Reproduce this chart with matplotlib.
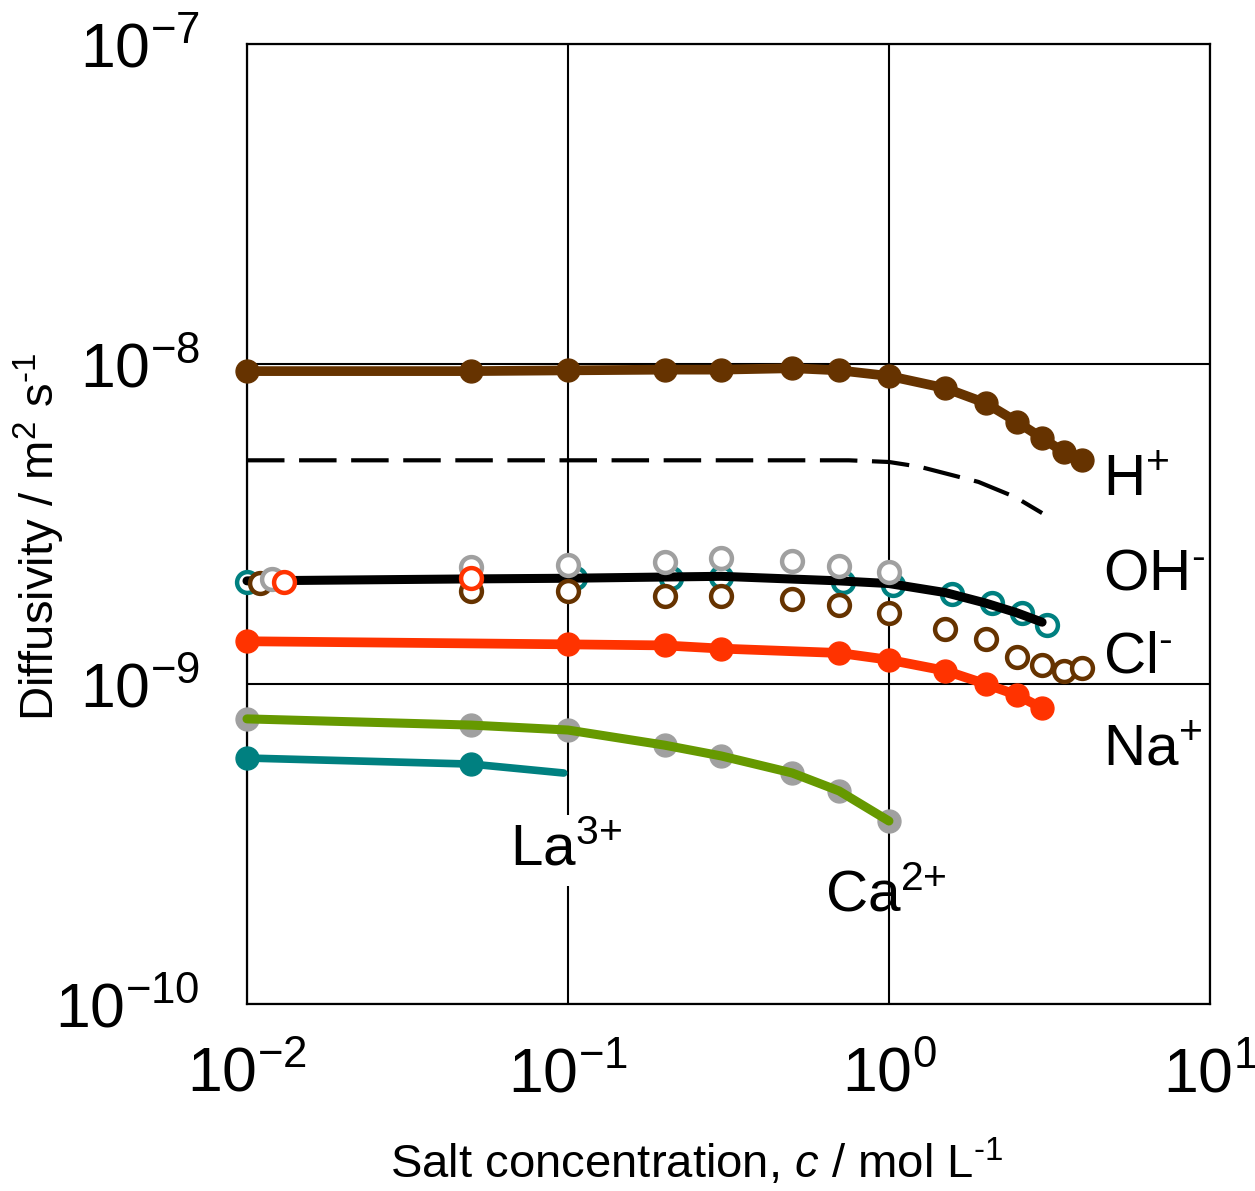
import matplotlib
matplotlib.use("Agg")
import matplotlib.pyplot as plt

plt.rcParams["font.family"] = ["Liberation Sans", "DejaVu Sans"]
plt.rcParams["mathtext.fontset"] = "custom"
plt.rcParams["mathtext.rm"] = "Liberation Sans"
plt.rcParams["mathtext.it"] = "Liberation Sans:italic"
plt.rcParams["mathtext.bf"] = "Liberation Sans:bold"

# ---- data: diffusivities (m^2/s) vs salt concentration (mol/L) ----
# H+ (filled, brown)
h_c = [0.01, 0.05, 0.1, 0.2, 0.3, 0.5, 0.7, 1.0, 1.5, 2.0, 2.5, 3.0, 3.5, 4.0]
h_d = [9.5e-9, 9.5e-9, 9.55e-9, 9.6e-9, 9.6e-9, 9.7e-9, 9.55e-9, 9.17e-9,
       8.4e-9, 7.55e-9, 6.6e-9, 5.87e-9, 5.31e-9, 5.02e-9]

# dashed reference curve
dash_c = [0.01, 0.1, 0.5, 0.75, 1.0, 1.25, 1.9, 2.47, 3.0]
dash_d = [5.0e-9, 5.0e-9, 5.0e-9, 5.0e-9, 4.94e-9, 4.77e-9, 4.28e-9, 3.84e-9, 3.42e-9]

# OH- solid black line
oh_line_c = [0.01, 0.05, 0.1, 0.3, 0.7, 1.0, 1.5, 2.0, 2.5, 3.0]
oh_line_d = [2.10e-9, 2.13e-9, 2.14e-9, 2.17e-9, 2.10e-9, 2.06e-9, 1.93e-9,
             1.79e-9, 1.67e-9, 1.56e-9]

# OH- measured (open, teal)
oh_c = [0.01, 0.105, 0.21, 0.3, 0.72, 1.03, 1.57, 2.1, 2.6, 3.1]
oh_d = [2.08e-9, 2.14e-9, 2.14e-9, 2.16e-9, 2.08e-9, 2.04e-9, 1.91e-9,
        1.79e-9, 1.67e-9, 1.53e-9]

# Cl- in CaCl2 (open, gray)
clca_c = [0.012, 0.05, 0.1, 0.2, 0.3, 0.5, 0.7, 1.0]
clca_d = [2.13e-9, 2.32e-9, 2.35e-9, 2.41e-9, 2.48e-9, 2.42e-9, 2.34e-9, 2.24e-9]

# Cl- in NaCl (open, red)
clna_c = [0.013, 0.05]
clna_d = [2.08e-9, 2.14e-9]

# Cl- in HCl (open, brown)
clh_c = [0.011, 0.05, 0.1, 0.2, 0.3, 0.5, 0.7, 1.0, 1.5, 2.0, 2.5, 3.0, 3.5, 4.0]
clh_d = [2.07e-9, 1.95e-9, 1.95e-9, 1.88e-9, 1.88e-9, 1.84e-9, 1.77e-9, 1.67e-9,
         1.49e-9, 1.38e-9, 1.21e-9, 1.15e-9, 1.10e-9, 1.12e-9]

# Na+ (filled, red)
na_c = [0.01, 0.1, 0.2, 0.3, 0.7, 1.0, 1.5, 2.0, 2.5, 3.0]
na_d = [1.36e-9, 1.33e-9, 1.32e-9, 1.29e-9, 1.25e-9, 1.19e-9, 1.10e-9,
        1.0e-9, 0.924e-9, 0.841e-9]

# Ca2+ (gray points, green line)
ca_c = [0.01, 0.05, 0.1, 0.2, 0.3, 0.5, 0.7, 1.0]
ca_d = [7.78e-10, 7.44e-10, 7.18e-10, 6.44e-10, 5.96e-10, 5.27e-10, 4.63e-10, 3.73e-10]

# La3+ (filled, teal); the last line point carries no marker
la_c = [0.01, 0.05, 0.097]
la_d = [5.87e-10, 5.62e-10, 5.27e-10]

# ion labels: (text, c, D)
HY = "\u2010"  # short hyphen used for negative charges / exponents
ion_labels = [
    ("H$^{+}$", 4.64, 3.9e-9),
    ("OH$^{" + HY + "}$", 4.64, 1.97e-9),
    ("Cl$^{" + HY + "}$", 4.64, 1.09e-9),
    ("Na$^{+}$", 4.64, 5.58e-10),
    ("Ca$^{2{+}}$", 0.631, 1.94e-10),
]
la_label = ("La$^{3{+}}$", 0.0659, 2.71e-10)

x_ticks = [1e-2, 1e-1, 1e0, 1e1]
y_ticks = [1e-10, 1e-9, 1e-8, 1e-7]

BROWN = "#663300"
TEAL = "#008080"
RED = "#FF3300"
GREEN = "#669900"
GRAY = "#A0A0A0"

fig = plt.figure(figsize=(12.55, 11.91), dpi=100)
ax = fig.add_axes([0.1968, 0.1570, 0.7673, 0.8061])
ax.set_xscale("log")
ax.set_yscale("log")
ax.set_xlim(1e-2, 1e1)
ax.set_ylim(1e-10, 1e-7)
ax.set_xticks(x_ticks)
ax.set_yticks(y_ticks)
ax.minorticks_off()
ax.tick_params(which="both", length=0, labelsize=45)
ax.tick_params(axis="x", pad=30)
ax.tick_params(axis="y", pad=34)
ax.grid(True, which="major", color="black", linewidth=1.5, zorder=0)
ax.set_axisbelow(True)
for s in ax.spines.values():
    s.set_linewidth(1.6)
    s.set_color("black")

msz = 16.5
common = dict(clip_on=False)
# dashed curve
ax.plot(dash_c, dash_d, color="black", lw=3, dashes=(9, 3.5), zorder=2, **common)

# H+
ax.plot(h_c, h_d, color=BROWN, lw=7, marker="o", ms=msz, mec=BROWN, mfc=BROWN,
        solid_capstyle="round", zorder=3, **common)

# OH- open markers then the black line over them
ax.plot(oh_c, oh_d, ls="none", marker="o", ms=15, mfc="white", mec=TEAL, mew=3.2,
        zorder=3, **common)
ax.plot(oh_line_c, oh_line_d, color="black", lw=6.5, solid_capstyle="round", zorder=4, **common)
ax.plot(clh_c, clh_d, ls="none", marker="o", ms=15, mfc="white", mec=BROWN, mew=3.2,
        zorder=5, **common)
ax.plot(clca_c, clca_d, ls="none", marker="o", ms=15, mfc="white", mec=GRAY, mew=3.2,
        zorder=6, **common)
ax.plot(clna_c, clna_d, ls="none", marker="o", ms=15, mfc="white", mec=RED, mew=3.2,
        zorder=7, **common)

# Na+
ax.plot(na_c, na_d, color=RED, lw=7, marker="o", ms=msz, mec=RED, mfc=RED,
        solid_capstyle="round", zorder=3, **common)

# Ca2+: gray points under a green line
ax.plot(ca_c, ca_d, ls="none", marker="o", ms=msz, mec=GRAY, mfc=GRAY, zorder=3, **common)
ax.plot(ca_c, ca_d, color=GREEN, lw=6.5, solid_capstyle="round", zorder=4, **common)

# La3+
ax.plot(la_c, la_d, color=TEAL, lw=5.5, solid_capstyle="round", zorder=3, **common)
ax.plot(la_c[:2], la_d[:2], ls="none", marker="o", ms=msz, mec=TEAL, mfc=TEAL,
        zorder=3, **common)

for txt, cx, dy in ion_labels:
    ax.text(cx, dy, txt, fontsize=42, ha="left", va="baseline", zorder=8)
ax.text(la_label[1], la_label[2], la_label[0], fontsize=42, ha="left", va="baseline",
        zorder=8, bbox=dict(facecolor="white", edgecolor="none", pad=6))

ax.set_xlabel("Salt concentration, $\\mathit{c}$ / mol L$^{" + HY + "1}$", fontsize=34)
ax.set_ylabel("Diffusivity / m$^{2}$ s$^{" + HY + "1}$", fontsize=34)
ax.xaxis.set_label_coords(0.467, -0.165)
ax.xaxis.label.set_va("center")
ax.yaxis.set_label_coords(-0.215, 0.486)
ax.yaxis.label.set_va("center")

fig.savefig("out.png", dpi=100, facecolor="white")
